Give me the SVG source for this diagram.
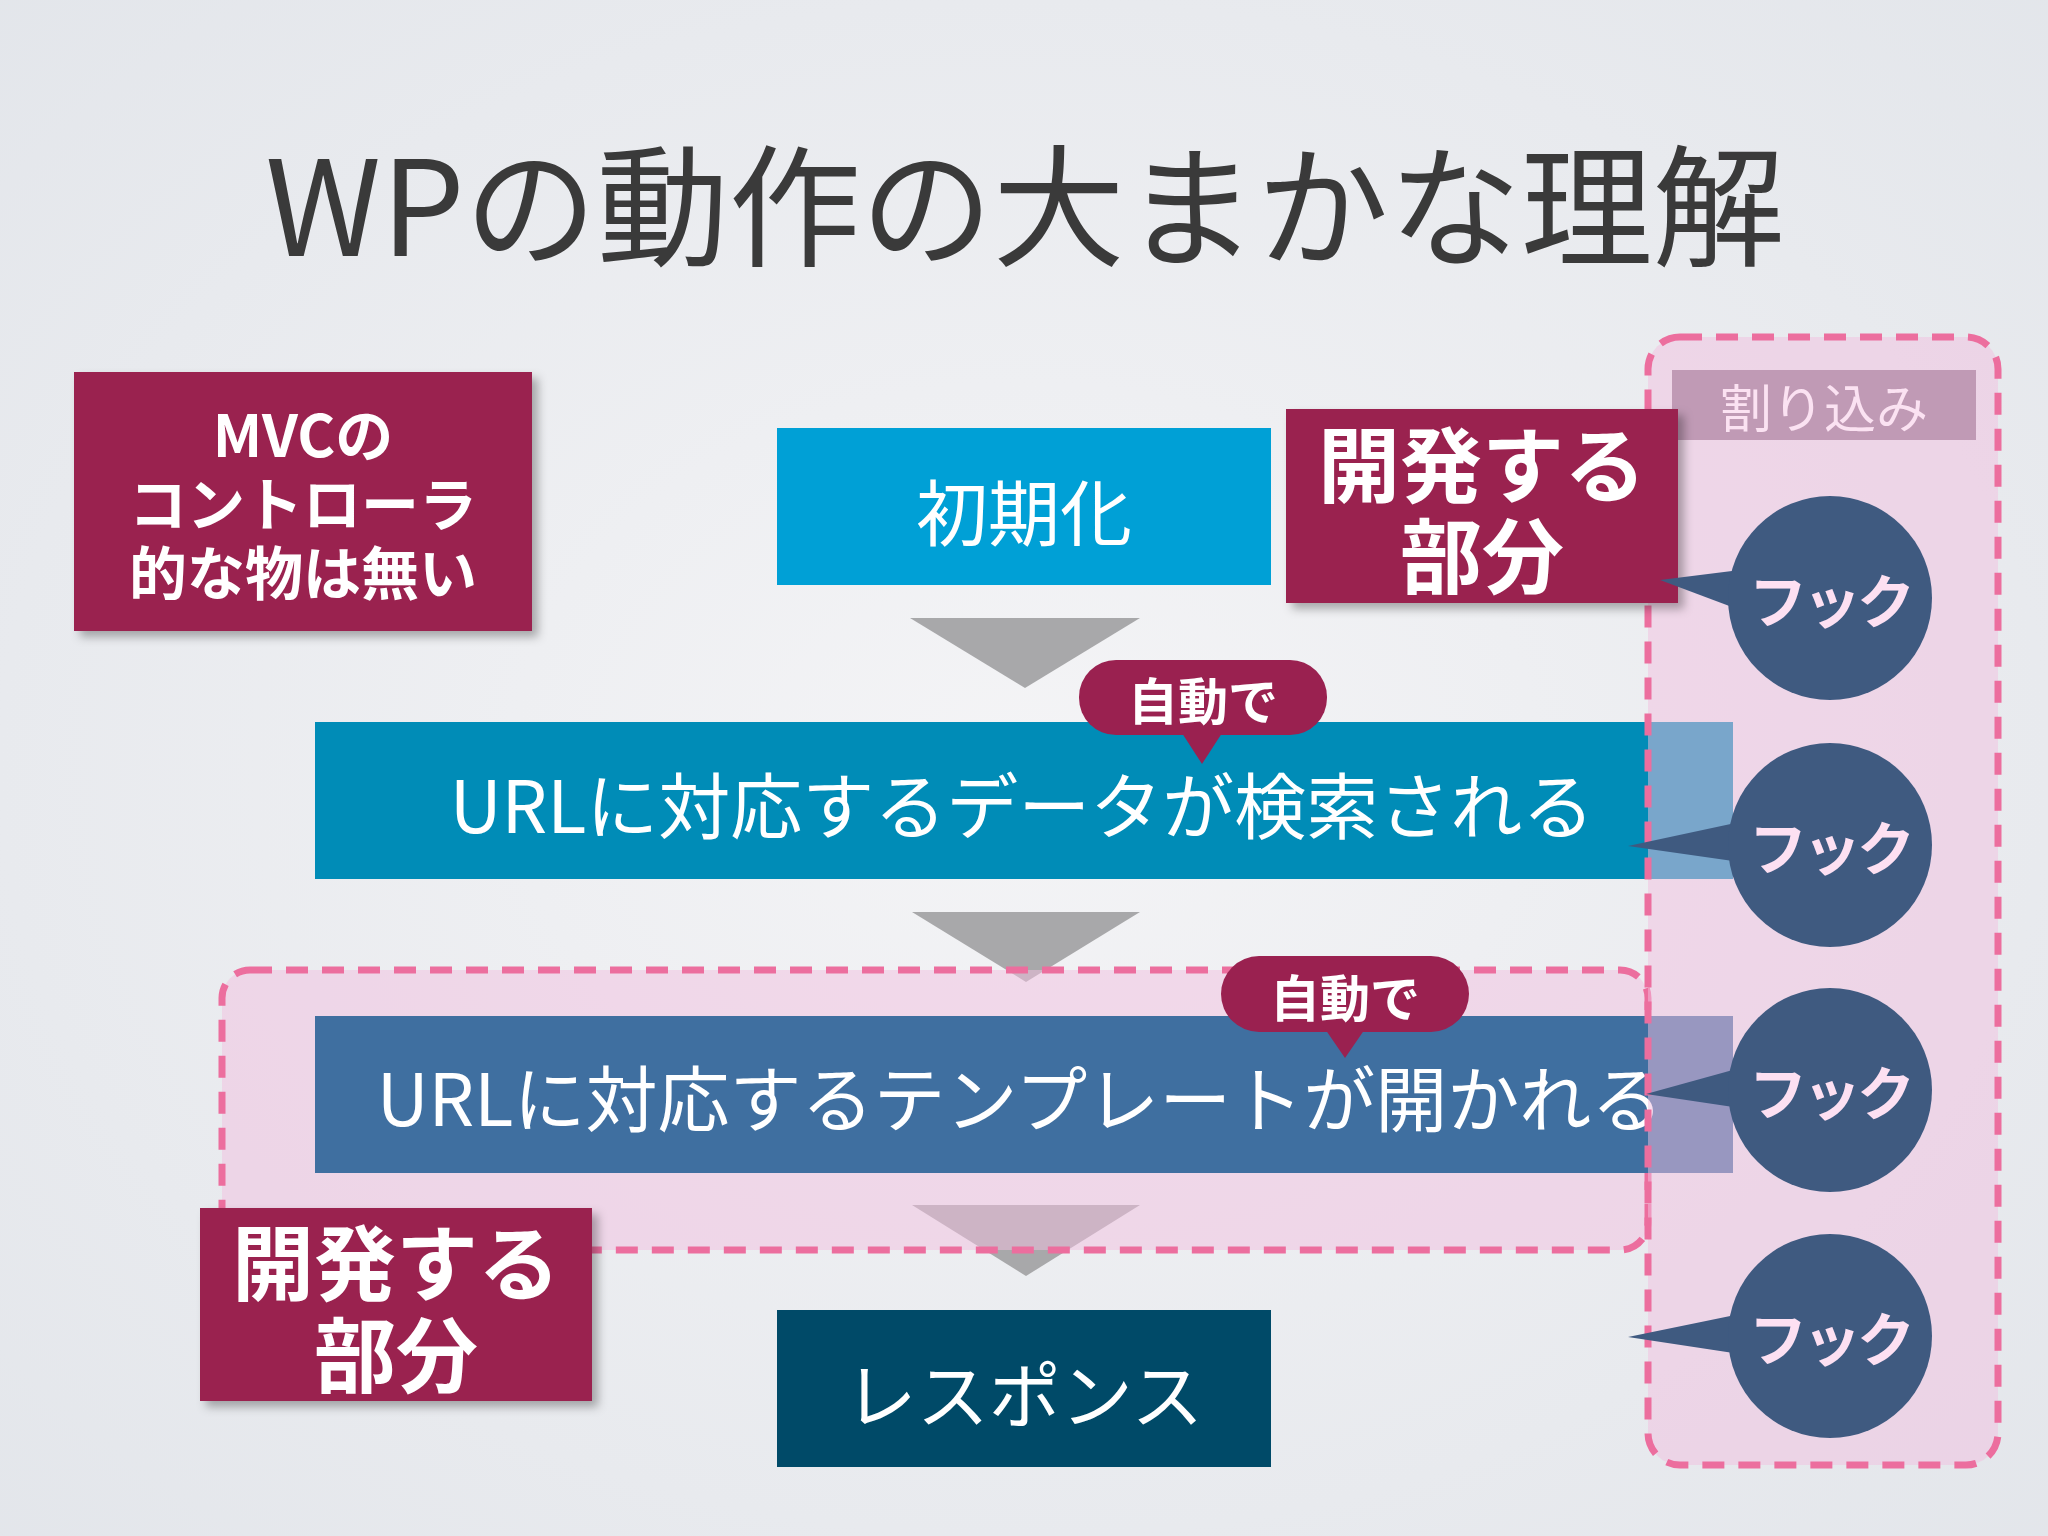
<svg xmlns="http://www.w3.org/2000/svg" width="2048" height="1536" viewBox="0 0 2048 1536">
<defs>
<radialGradient id="bg" cx="0.5" cy="0.5" r="0.75"><stop offset="0" stop-color="#f4f4f6"/><stop offset="1" stop-color="#e2e5ea"/></radialGradient>
<filter id="sh" x="-10%" y="-10%" width="130%" height="130%"><feDropShadow dx="6" dy="6" stdDeviation="5" flood-color="#000" flood-opacity="0.3"/></filter>
</defs>
<style>
text{font-family:"Noto Sans CJK JP","Noto Sans",sans-serif;text-anchor:middle;dominant-baseline:central}
.w{fill:#fff}
.red{fill:#9a2150}
.b{font-weight:bold}
.dash{fill:#f2bfe0;fill-opacity:0.5;stroke:#ec6e9e;stroke-width:7;stroke-dasharray:22 14}
.tri{fill:#a8a8aa}
.hook{fill:#3f5a80}
.ht{fill:#fde0f2;font-weight:bold;font-size:58px;letter-spacing:-4px}
</style>
<rect width="2048" height="1536" fill="url(#bg)"/>
<text x="1025" y="198" font-size="132" fill="#3a3a3a">WPの動作の大まかな理解</text>

<g id="connectors">
<polygon class="tri" points="910,618 1140,618 1025,688"/>
<polygon class="tri" points="912,912 1140,912 1026,982"/>
<polygon class="tri" points="912,1205 1140,1205 1026,1276"/>
</g>

<g id="init"><rect x="777" y="428" width="494" height="157" fill="#00a0d6"/><text class="w" x="1024" y="508" font-size="72">初期化</text></g>
<g id="search"><rect x="315" y="722" width="1418" height="157" fill="#008cb7"/><text class="w" x="1022" y="801" font-size="72">URLに対応するデータが検索される</text></g>

<g id="devzone2"><rect class="dash" x="222" y="970" width="1426" height="280" rx="28"/></g>
<g id="template"><rect x="315" y="1016" width="1418" height="157" fill="#3f6fa0"/><text class="w" x="1020" y="1094" font-size="72">URLに対応するテンプレートが開かれる</text></g>
<g id="response"><rect x="777" y="1310" width="494" height="157" fill="#004a68"/><text class="w" x="1024" y="1390" font-size="72">レスポンス</text></g>

<g id="auto1"><rect class="red" x="1079" y="660" width="248" height="75" rx="37"/><polygon class="red" points="1180,730 1224,730 1202,764"/><text class="w b" x="1203" y="698" font-size="50">自動で</text></g>
<g id="auto2"><rect class="red" x="1221" y="956" width="248" height="76" rx="38"/><polygon class="red" points="1323,1026 1367,1026 1345,1058"/><text class="w b" x="1345" y="995" font-size="50">自動で</text></g>

<g id="mvc"><rect class="red" x="74" y="372" width="458" height="259" filter="url(#sh)"/>
<text class="w b" x="303" y="432" font-size="58">MVCの</text>
<text class="w b" x="303" y="501" font-size="58">コントローラ</text>
<text class="w b" x="303" y="570" font-size="58">的な物は無い</text></g>

<g id="interrupt"><rect class="dash" x="1648" y="337" width="350" height="1128" rx="32"/>
<rect x="1672" y="370" width="304" height="70" fill="#c09ab5"/><text x="1824" y="405" font-size="52" fill="#fbe2f2">割り込み</text></g>

<g id="dev1"><rect class="red" x="1286" y="409" width="392" height="194" filter="url(#sh)"/>
<text class="w b" x="1482" y="460" font-size="82">開発する</text><text class="w b" x="1482" y="551" font-size="82">部分</text></g>
<g id="dev2"><rect class="red" x="200" y="1208" width="392" height="193" filter="url(#sh)"/>
<text class="w b" x="396" y="1258" font-size="82">開発する</text><text class="w b" x="396" y="1350" font-size="82">部分</text></g>

<g id="hook1"><polygon class="hook" points="1660,580 1740,570 1740,610"/><circle class="hook" cx="1830" cy="598" r="102"/><text class="ht" x="1830" y="598">フック</text></g>
<g id="hook2"><polygon class="hook" points="1628,846 1740,822 1740,862"/><circle class="hook" cx="1830" cy="845" r="102"/><text class="ht" x="1830" y="845">フック</text></g>
<g id="hook3"><polygon class="hook" points="1646,1094 1740,1068 1740,1108"/><circle class="hook" cx="1830" cy="1090" r="102"/><text class="ht" x="1830" y="1090">フック</text></g>
<g id="hook4"><polygon class="hook" points="1628,1337 1740,1314 1740,1354"/><circle class="hook" cx="1830" cy="1336" r="102"/><text class="ht" x="1830" y="1336">フック</text></g>
</svg>
